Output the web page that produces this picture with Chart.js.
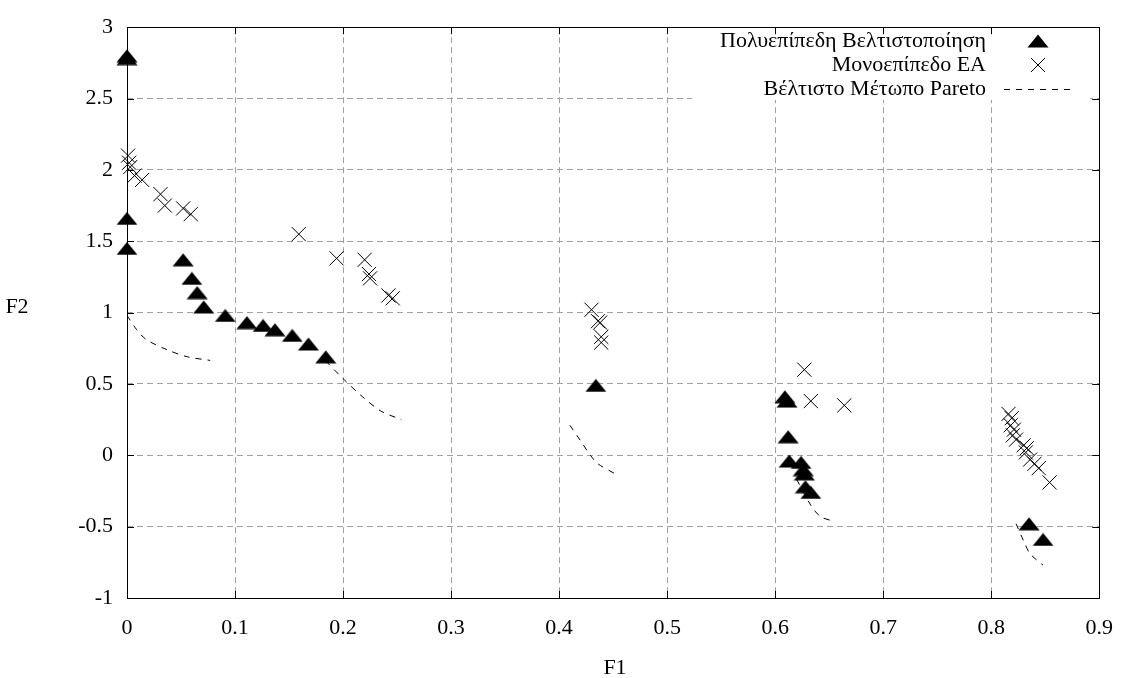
<!DOCTYPE html>
<html>
<head>
<meta charset="utf-8">
<script src="https://cdn.jsdelivr.net/npm/chart.js@4/dist/chart.umd.min.js"></script>
<style>
    html, body { margin: 0; padding: 0; background: #fff; }
    #chart { display: block; }
</style>
</head>
<body>
<canvas id="chart" width="1130" height="678"></canvas>
<script>
// ===== DATA =====
const xTicks = [0, 0.1, 0.2, 0.3, 0.4, 0.5, 0.6, 0.7, 0.8, 0.9];
const xTickLabels = ["0", "0.1", "0.2", "0.3", "0.4", "0.5", "0.6", "0.7", "0.8", "0.9"];
const yTicks = [-1, -0.5, 0, 0.5, 1, 1.5, 2, 2.5, 3];
const yTickLabels = ["-1", "-0.5", "0", "0.5", "1", "1.5", "2", "2.5", "3"];

const seriesNames = ["Πολυεπίπεδη Βελτιστοποίηση", "Μονοεπίπεδο EA", "Βέλτιστο Μέτωπο Pareto"];

// multilevel optimisation (filled triangles)
const triX = [0, 0, 0, 0, 0.052, 0.060, 0.065, 0.071, 0.091, 0.111, 0.126, 0.137, 0.153, 0.168, 0.184,
    0.434, 0.609, 0.611, 0.612, 0.613, 0.624, 0.626, 0.627, 0.628, 0.633, 0.835, 0.848];
const triY = [2.80, 2.78, 1.66, 1.45, 1.37, 1.24, 1.14, 1.04, 0.98, 0.93, 0.91, 0.88, 0.84, 0.78, 0.69,
    0.49, 0.41, 0.38, 0.13, -0.04, -0.05, -0.10, -0.13, -0.22, -0.26, -0.48, -0.59];

// single level EA (crosses)
const crossX = [0.001, 0.002, 0.003, 0.007, 0.014, 0.031, 0.035, 0.052, 0.059, 0.159, 0.194, 0.220, 0.224, 0.225,
    0.242, 0.246, 0.430, 0.436, 0.438, 0.439, 0.439, 0.627, 0.633, 0.664, 0.816, 0.819, 0.818, 0.821, 0.820,
    0.823, 0.830, 0.833, 0.832, 0.836, 0.840, 0.844, 0.854];
const crossY = [2.10, 2.05, 2.02, 1.96, 1.93, 1.83, 1.75, 1.73, 1.69, 1.55, 1.38, 1.37, 1.27, 1.24,
    1.12, 1.10, 1.02, 0.94, 0.93, 0.83, 0.79, 0.60, 0.38, 0.35, 0.29, 0.26, 0.21, 0.18, 0.14,
    0.11, 0.07, 0.05, 0.02, -0.03, -0.06, -0.09, -0.19];

// optimal pareto front (dashed, null = gap between pieces)
const paretoX = [0, 0.009, 0.018, 0.037, 0.056, 0.077, null,
    0.184, 0.201, 0.218, 0.235, 0.254, null,
    0.410, 0.420, 0.429, 0.436, 0.452, null,
    0.620, 0.633, 0.642, 0.653, null,
    0.823, 0.830, 0.836, 0.848];
const paretoY = [0.98, 0.88, 0.81, 0.74, 0.69, 0.665, null,
    0.66, 0.53, 0.41, 0.31, 0.25, null,
    0.21, 0.10, 0.00, -0.06, -0.13, null,
    -0.17, -0.35, -0.43, -0.46, null,
    -0.48, -0.60, -0.69, -0.77];

const toPoints = (xs, ys) => xs.map((x, i) => ({ x: x, y: ys[i] }));

// flat gnuplot-like triangle marker
const triMarker = document.createElement("canvas");
triMarker.width = 22;
triMarker.height = 14;
(function () {
    const c = triMarker.getContext("2d");
    c.fillStyle = "#000";
    c.beginPath();
    c.moveTo(11, 0.5);
    c.lineTo(21.5, 13.5);
    c.lineTo(0.5, 13.5);
    c.closePath();
    c.fill();
})();

const FONT = "'Liberation Serif', 'Times New Roman', serif";
const FSIZE = 22;

// ===== FRAME, INWARD TICKS, AXIS TITLES, KEY =====
const gnuplotLook = {
    id: "gnuplotLook",
    beforeDatasetsDraw(chart) {
        const ctx = chart.ctx;
        // key background hides the grid
        ctx.save();
        ctx.fillStyle = "#fff";
        ctx.fillRect(692, 25, 398, 75);
        ctx.restore();
    },
    afterDatasetsDraw(chart) {
        const ctx = chart.ctx;
        const a = chart.chartArea;
        const xs = chart.scales.x;
        const ys = chart.scales.y;

        ctx.save();
        ctx.strokeStyle = "#000";
        ctx.lineWidth = 1;
        ctx.strokeRect(Math.round(a.left) + 0.5, Math.round(a.top) + 0.5,
            Math.round(a.right - a.left), Math.round(a.bottom - a.top));

        ctx.beginPath();
        xTicks.forEach(v => {
            const px = Math.round(xs.getPixelForValue(v)) + 0.5;
            ctx.moveTo(px, a.bottom); ctx.lineTo(px, a.bottom - 7);
            ctx.moveTo(px, a.top); ctx.lineTo(px, a.top + 7);
        });
        yTicks.forEach(v => {
            const py = Math.round(ys.getPixelForValue(v)) + 0.5;
            ctx.moveTo(a.left, py); ctx.lineTo(a.left + 7, py);
            ctx.moveTo(a.right, py); ctx.lineTo(a.right - 7, py);
        });
        ctx.stroke();

        // axis titles
        ctx.fillStyle = "#000";
        ctx.font = FSIZE + "px " + FONT;
        ctx.textAlign = "center";
        ctx.textBaseline = "middle";
        ctx.fillText("F1", 615, 668);
        ctx.fillText("F2", 17, 307);

        // key
        ctx.textAlign = "right";
        const rows = [41, 65, 89];
        rows.forEach((ry, i) => ctx.fillText(seriesNames[i], 986, ry));

        ctx.drawImage(triMarker, 1038 - 11, rows[0] - 7);

        ctx.beginPath();
        ctx.moveTo(1031, rows[1] - 7); ctx.lineTo(1045, rows[1] + 7);
        ctx.moveTo(1045, rows[1] - 7); ctx.lineTo(1031, rows[1] + 7);
        ctx.stroke();

        ctx.setLineDash([6, 6]);
        ctx.beginPath();
        ctx.moveTo(1004, rows[2] + 0.5); ctx.lineTo(1074, rows[2] + 0.5);
        ctx.stroke();
        ctx.restore();
    }
};

new Chart(document.getElementById("chart"), {
    type: "scatter",
    data: {
        datasets: [
            {
                label: seriesNames[0],
                data: toPoints(triX, triY),
                pointStyle: triMarker,
                pointRadius: 7,
                showLine: false,
                clip: false
            },
            {
                label: seriesNames[1],
                data: toPoints(crossX, crossY),
                pointStyle: "crossRot",
                pointRadius: 10,
                borderColor: "#000",
                borderWidth: 1,
                showLine: false,
                clip: false
            },
            {
                label: seriesNames[2],
                data: toPoints(paretoX, paretoY),
                showLine: true,
                spanGaps: false,
                pointRadius: 0,
                borderColor: "#000",
                borderWidth: 1,
                borderDash: [6, 6],
                tension: 0.3
            }
        ]
    },
    options: {
        responsive: false,
        devicePixelRatio: 1,
        animation: false,
        events: [],
        layout: { padding: { top: 17, right: 27, left: 0, bottom: 0 } },
        plugins: {
            legend: { display: false },
            tooltip: { enabled: false }
        },
        scales: {
            x: {
                type: "linear",
                min: 0,
                max: 0.9,
                afterBuildTicks: s => { s.ticks = xTicks.map(v => ({ value: v })); },
                afterFit: s => { s.height = 80; },
                ticks: {
                    color: "#000",
                    font: { family: FONT, size: FSIZE },
                    padding: 17,
                    maxRotation: 0,
                    callback: (v, i) => xTickLabels[i]
                },
                grid: { color: "#a0a0a0", lineWidth: 1, drawTicks: false },
                border: { display: false, dash: [6, 4] }
            },
            y: {
                type: "linear",
                min: -1,
                max: 3,
                afterBuildTicks: s => { s.ticks = yTicks.map(v => ({ value: v })); },
                afterFit: s => { s.width = 127; },
                ticks: {
                    color: "#000",
                    font: { family: FONT, size: FSIZE },
                    padding: 14,
                    callback: (v, i) => yTickLabels[i]
                },
                grid: { color: "#a0a0a0", lineWidth: 1, drawTicks: false },
                border: { display: false, dash: [6, 4] }
            }
        }
    },
    plugins: [gnuplotLook]
});
</script>
</body>
</html>
